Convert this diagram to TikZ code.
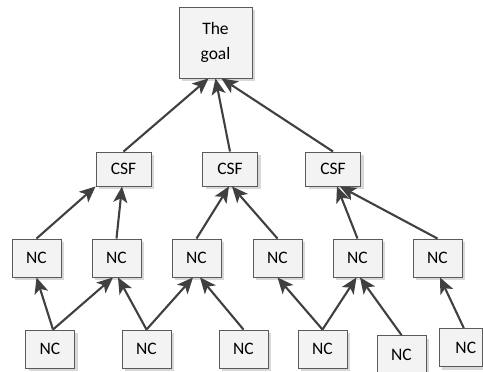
\documentclass[tikz,border=0pt]{standalone}
\usepackage{fontspec}
\setmainfont{Carlito}
\usetikzlibrary{arrows.meta,shadows}
\definecolor{edgegray}{HTML}{404040}
\definecolor{boxline}{HTML}{5A5A5A}
\definecolor{boxfill}{HTML}{F3F3F3}
\begin{document}
\begin{tikzpicture}[x=1pt,y=-1pt,
  box/.style={draw=boxline, line width=0.9pt, fill=boxfill, inner sep=0pt,
    font=\fontsize{17.5}{25}\selectfont, align=center,
    drop shadow={shadow xshift=3pt, shadow yshift=-3pt, fill=black!22, opacity=0.7}},
  csfbox/.style={box, minimum width=55pt, minimum height=34pt},
  ncbox/.style={box, minimum width=49pt, minimum height=38pt},
  link/.style={draw=edgegray, line width=2.1pt,
    -{Stealth[length=16pt, width=14pt, inset=4pt]}}]
\useasboundingbox (0,0) rectangle (483,372);

% goal
\node[box, minimum width=73pt, minimum height=71pt] (goal) at (215.5,42.5) {The\\goal};

% critical success factors
\node[csfbox] (csf1) at (123.5,169) {CSF};
\node[csfbox] (csf2) at (230,169) {CSF};
\node[csfbox] (csf3) at (333,169) {CSF};

% middle row of NC boxes
\node[ncbox] (m1) at (36.5,258) {NC};
\node[ncbox] (m2) at (116.5,258) {NC};
\node[ncbox] (m3) at (196.5,258) {NC};
\node[ncbox] (m4) at (277.5,258) {NC};
\node[ncbox] (m5) at (357.5,258) {NC};
\node[ncbox] (m6) at (437.5,258) {NC};

% bottom row of NC boxes
\node[ncbox] (b1) at (50,349) {NC};
\node[ncbox] (b2) at (146.5,349) {NC};
\node[ncbox] (b3) at (243.5,349) {NC};
\node[ncbox] (b4) at (322.5,349) {NC};
\node[ncbox] (b5) at (401.5,354.5) {NC};
\node[ncbox, minimum width=43pt] (b6) at (460.8,347.5) {\hspace*{10pt}NC};

% CSF -> goal
\draw[link] (csf1.north) -- ([xshift=-7pt]goal.south);
\draw[link] (csf2.north) -- (goal.south);
\draw[link] (csf3.north) -- ([xshift=6pt]goal.south);

% middle row -> CSF
\draw[link] (m1.north) -- (csf1.south west);
\draw[link] (m2.north) -- ([xshift=-1.5pt]csf1.south);
\draw[link] (m3.north) -- ([xshift=-1pt]csf2.south);
\draw[link] (m4.north) -- ([xshift=2pt]csf2.south);
\draw[link] (m5.north) -- ([xshift=4pt]csf3.south);
\draw[link] (m6.north) -- ([xshift=7pt]csf3.south);

% bottom row -> middle row
\draw[link] ([xshift=3pt]b1.north) -- (m1.south);
\draw[link] ([xshift=3pt]b1.north) -- ([xshift=-3.5pt]m2.south);
\draw[link] (b2.north) -- ([xshift=1.5pt]m2.south);
\draw[link] (b2.north) -- ([xshift=-3.5pt]m3.south);
\draw[link] (b3.north) -- ([xshift=3.5pt]m3.south);
\draw[link] (b4.north) -- (m4.south);
\draw[link] (b4.north) -- ([xshift=-1pt]m5.south);
\draw[link] (b5.north) -- ([xshift=2.5pt]m5.south);
\draw[link] ([xshift=3pt]b6.north) -- ([xshift=2.5pt]m6.south);
\end{tikzpicture}
\end{document}
